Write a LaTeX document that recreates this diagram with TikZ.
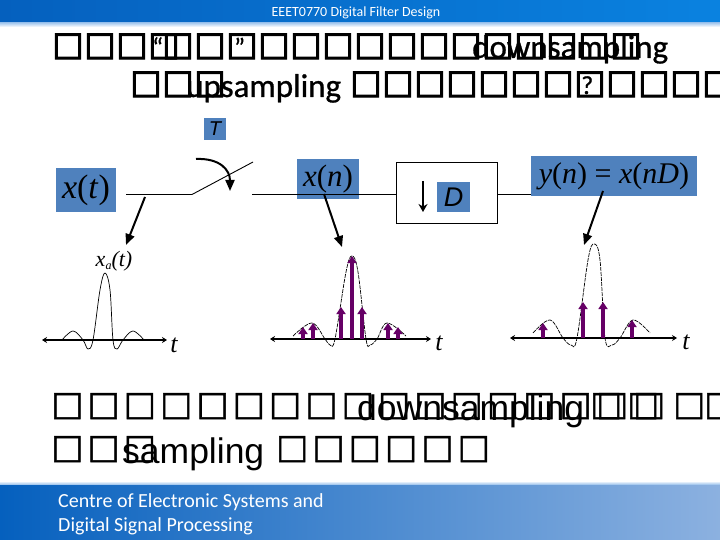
\documentclass[tikz,border=0pt]{standalone}
\usepackage{fontspec}
\setmainfont{Liberation Serif}
\newfontfamily\tofuheavy[FakeBold=3.5]{DejaVu Sans}
\newfontfamily\tofulight[FakeBold=1.5]{DejaVu Sans}
\newfontfamily\bodyfont{Liberation Sans}
\newfontfamily\slidefont{Carlito}
\newfontfamily\headfont[FakeBold=0.8]{Carlito}
\usetikzlibrary{arrows.meta,calc}
\newcommand{\tofurow}[2]{\foreach \tofuidx in {1,...,#2}{\makebox[#1][l]{□}}}
\definecolor{labelblue}{HTML}{4F81BD}
\definecolor{stemviolet}{HTML}{660066}
\definecolor{bandleft}{HTML}{0560BE}
\definecolor{bandmid}{HTML}{0A7DDC}
\definecolor{bandright}{HTML}{0A82E0}
\definecolor{footright}{HTML}{8CB1E0}
\definecolor{bandedge}{HTML}{A9CBEF}
\tikzset{
    tofuhead/.style={anchor=base west, inner sep=0pt, font=\tofuheavy\fontsize{33}{33}\selectfont},
    tofubody/.style={anchor=base west, inner sep=0pt, font=\tofulight\fontsize{34}{34}\selectfont},
    headword/.style={anchor=base west, inner sep=0pt, font=\headfont\fontsize{33}{33}\selectfont},
    headmark/.style={anchor=base west, inner sep=0pt, font=\headfont\fontsize{26}{26}\selectfont},
    bodyword/.style={anchor=base west, inner sep=0pt, font=\bodyfont\fontsize{35.5}{35.5}\selectfont},
    slideword/.style={anchor=base west, inner sep=0pt, text=white, font=\slidefont\fontsize{20}{20}\selectfont},
    labelbox/.style={fill=labelblue, inner sep=0pt, minimum width=#1},
    signal/.style={line width=0.9pt, black},
    sketch/.style={line width=0.7pt, black},
    pointer/.style={line width=2pt, -{Triangle[length=11pt,width=9pt]}},
    axisline/.style={line width=1.8pt, {Stealth[length=5pt,width=6pt]}-{Stealth[length=5pt,width=6pt]}},
    stem/.style={line width=3.6pt, stemviolet, -{Triangle[length=7pt,width=9pt]}},
    axisname/.style={inner sep=0pt, font=\itshape\fontsize{26}{26}\selectfont}
}
\begin{document}
\begin{tikzpicture}[x=1pt,y=-1pt]
    \clip (0,0) rectangle (720,540);
    \fill[white] (0,0) rectangle (720,540);

    % Header and footer bands
    \shade[left color=bandleft, middle color=bandmid, right color=bandright] (0,0) rectangle (720,23);
    \shade[top color=bandedge, bottom color=white] (0,23) rectangle (720,27);
    \shade[left color=bandleft, right color=footright] (0,484) rectangle (720,540);
    \shade[top color=white, bottom color=bandedge] (0,481) rectangle (720,484);
    \node[inner sep=0pt, text=white, font=\slidefont\fontsize{14}{14}\selectfont] (headertext) at (356,12.5) {EEET0770 Digital Filter Design};
    \node[slideword] (footerone) at (58,507) {Centre of Electronic Systems and};
    \node[slideword] (footertwo) at (58,531) {Digital Signal Processing};

    % Heading, first line
    \node[tofuhead] (heada) at (52.2,55) {\tofurow{32pt}{4}};
    \node[tofuhead] (headb) at (162.2,55) {\tofurow{32pt}{1}};
    \node[tofuhead] (headc) at (194.2,55) {\tofurow{32pt}{14}};
    \node[headmark] (quoteopen) at (152,56) {“};
    \node[headmark] (quoteclose) at (234,56) {”};
    \node[headword] (downhead) at (472,58) {downsampling};

    % Heading, second line
    \node[tofuhead] (headd) at (130.2,93) {\tofurow{32pt}{3}};
    \node[tofuhead] (heade) at (350.2,93) {\tofurow{32pt}{12}};
    \node[headword] (uphead) at (186,97) {upsampling};
    \node[headmark] (question) at (581,94) {?};

    % Sampler
    \node[labelbox=22pt, minimum height=22pt, font=\bodyfont\itshape\fontsize{20}{20}\selectfont] (period) at (215,129) {\textit{T}};
    \node[labelbox=60pt, minimum height=44pt, font=\fontsize{34}{34}\selectfont] (input) at (86,190) {\textit{x}(\textit{t})};
    \coordinate (inleft) at (126,194.5);
    \coordinate (hinge) at (192,194.5);
    \coordinate (blade) at (253,162);
    \coordinate (outleft) at (252,194.5);
    \draw[signal] (inleft) -- (hinge) -- (blade);
    \node[labelbox=62pt, minimum height=40pt, font=\fontsize{31}{31}\selectfont] (sampled) at (328,179) {\textit{x}(\textit{n})};
    \node[draw=black, fill=white, line width=0.9pt, minimum width=101pt, minimum height=61pt, inner sep=0pt] (block) at (446.5,192.5) {};
    \draw[signal] (outleft) -- (block.west |- outleft);
    \node[labelbox=33pt, minimum height=30pt, font=\bodyfont\itshape\fontsize{27}{27}\selectfont] (factor) at (453.5,197) {\textit{D}};
    \coordinate (downtop) at (423,181);
    \coordinate (downend) at (423,212);
    \draw[line width=1.3pt, -{Stealth[length=8pt,width=9pt]}] (downtop) -- (downend);
    \node[labelbox=166pt, minimum height=40pt, font=\fontsize{30}{30}\selectfont] (output) at (614,176) {\textit{y}(\textit{n}) = \textit{x}(\textit{nD})};
    \coordinate (outstart) at (531,194.5);
    \draw[signal] (block.east |- outstart) -- (outstart);

    % Pointers from the signals to the sketches
    \coordinate (swingstart) at (196,159);
    \coordinate (swingend) at (230,191);
    \draw[pointer] (swingstart) .. controls (220,158) and (230,170) .. (swingend);
    \coordinate (inpoint) at (145,197);
    \coordinate (intip) at (126,245);
    \draw[pointer] (inpoint) -- (intip);
    \coordinate (sampoint) at (324,194);
    \coordinate (samtip) at (342,247);
    \draw[pointer] (sampoint) -- (samtip);
    \coordinate (outpoint) at (603,191);
    \coordinate (outtip) at (584,245);
    \draw[pointer] (outpoint) -- (outtip);

    % Continuous sketch
    \draw[sketch] plot[smooth, tension=0.6] coordinates {(62,340) (73,331) (83,340) (88,349) (93,340) (100,290) (105,273) (110,290) (113,340) (117,349) (123,340) (133,331) (144,340)};
    \draw[axisline] (42,340) -- (167,340);
    \node[font=\itshape\fontsize{22}{22}\selectfont, inner sep=0pt] (analog) at (114,261) {\textit{x}\raisebox{-3pt}{\fontsize{12}{12}\selectfont\textit{a}}(\textit{t})};
    \node[axisname] (tone) at (174,345) {t};

    % Sampled sketch
    \draw[sketch, dash pattern=on 4pt off 1pt] plot[smooth, tension=0.6] coordinates {(293,336) (312,323) (325,339) (330,345) (335,339) (346,272) (352,256) (358,272) (366,339) (370,345) (377,339) (387,323) (406,336)};
    \draw[axisline] (270,339) -- (431,339);
    \foreach \stemx/\stemy in {303/327, 313/323, 341/307, 352/256, 362/307, 388/323, 398/327}
        \draw[stem] (\stemx,339) -- (\stemx,\stemy);
    \node[axisname] (ttwo) at (439,343) {t};

    % Decimated sketch
    \draw[sketch, dash pattern=on 4pt off 1pt] plot[smooth, tension=0.6] coordinates {(533,333) (550,320) (563,338) (571,345) (577,338) (588,260) (594,244) (600,260) (605,338) (612,345) (620,338) (633,320) (650,333)};
    \draw[axisline] (510,338) -- (677,338);
    \foreach \stemx/\stemy in {543/323, 583/302, 603/302, 632/320}
        \draw[stem] (\stemx,338) -- (\stemx,\stemy);
    \node[axisname] (tthree) at (686,342) {t};

    % Lower text, first line
    \node[tofubody] (bodya) at (51.1,415) {\tofurow{36.3pt}{15}};
    \node[tofubody] (bodyb) at (590,415) {□};
    \node[tofubody] (bodyc) at (596,415) {□};
    \node[tofubody] (bodyd) at (627,415) {□};
    \node[tofubody] (bodye) at (633,415) {□};
    \node[tofubody] (bodyf) at (673,415) {□};
    \node[tofubody] (bodyg) at (704,415) {□};
    \node[bodyword] (downbody) at (357,420) {downsampling};

    % Lower text, second line
    \node[tofubody] (bodyh) at (51.1,458) {\tofurow{36.3pt}{3}};
    \node[tofubody] (bodyi) at (276,458) {\tofurow{36.3pt}{6}};
    \node[bodyword] (samplebody) at (122,463) {sampling};
\end{tikzpicture}
\end{document}
